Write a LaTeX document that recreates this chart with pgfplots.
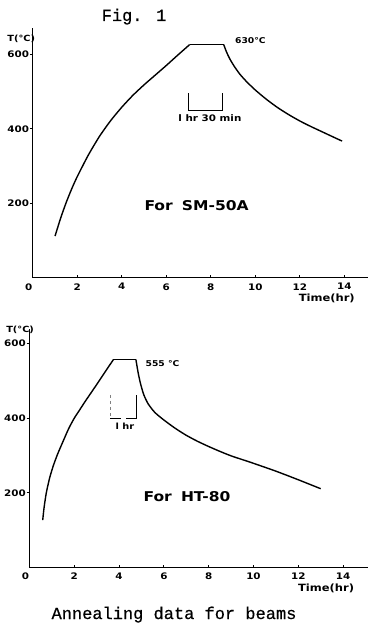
\documentclass[border=0pt]{standalone}
\usepackage{fontspec}
\usepackage{pgfplots}
\pgfplotsset{compat=1.18}
\newfontfamily\lett[FakeStretch=1.15]{DejaVu Sans}
\newfontfamily\tw[FakeBold=0.6]{Liberation Mono}

\pgfplotsset{
 annealaxis/.style={
  scale only axis, anchor=south west, clip=false,
  axis x line=bottom, axis y line=left,
  axis line style={-, line width=1.1pt},
  xmin=0, ymin=0,
  xtick={2,4,...,14}, ytick={200,400,600},
  extra x ticks={0},
  extra x tick style={major tick length=0pt, xticklabel style={xshift=-4pt}},
  xtick align=inside, ytick align=outside,
  major tick length=3pt,
  tick style={line width=0.8pt, black},
  /pgf/number format/assume math mode=true,
  ticklabel style={font=\lett\bfseries\fontsize{9}{10}\selectfont},
  yticklabel style={inner xsep=0.5pt},
  xticklabel style={yshift=-2pt},
 },
 curve/.style={black, line width=1.4pt, no markers},
 bracket/.style={black, line width=0.8pt, no markers},
}

\begin{document}
\begin{tikzpicture}
% ---------- top: SM-50A ----------
\begin{axis}[annealaxis, at={(32.8pt,-277.8pt)}, width=334.9pt, height=249.6pt,
  xmax=15.05, ymax=670]
\addplot[curve, smooth, tension=0.4] coordinates {
 (1.0,112) (1.25,160) (1.5,202) (1.75,239) (2.0,272) (2.5,330) (3.0,380)
 (3.5,422) (4.0,458) (4.5,490) (5.0,518) (5.5,544) (6.0,570) (6.5,597) (7.05,626)};
\addplot[curve] coordinates {(7.05,626) (8.58,626)};
\addplot[curve, smooth, tension=0.4] coordinates {
 (8.58,626) (8.7,607) (8.85,588) (9.05,568) (9.3,547) (9.6,527) (10.0,504)
 (10.5,479) (11.0,457) (11.5,438) (12.0,421) (12.5,406) (13.0,392) (13.5,378) (13.9,367)};
\addplot[bracket] coordinates {(7,495) (7,450) (8.5,450) (8.5,495)};
\node[font=\lett\bfseries\fontsize{8}{10}\selectfont] at (axis cs:9.78,637) {630°C};
\node[font=\lett\bfseries\fontsize{9}{10}\selectfont] at (axis cs:7.96,428) {l hr 30 min};
\node[font=\lett\bfseries\fontsize{13.5}{16}\selectfont] at (axis cs:7.36,195) {For\; SM-50A};
\node[font=\lett\bfseries\fontsize{8.5}{10}\selectfont] at (axis cs:-0.52,642) {T(°C)};
\node[font=\lett\bfseries\fontsize{10}{12}\selectfont] at (axis cs:13.21,-55) {Time(hr)};
\end{axis}
% ---------- bottom: HT-80 ----------
\begin{axis}[annealaxis, at={(29.5pt,-567.5pt)}, width=338.2pt, height=239pt,
  xmax=15.1, ymax=640]
\addplot[curve, smooth, tension=0.4] coordinates {
 (0.59,127) (0.65,160) (0.75,200) (0.9,240) (1.06,272) (1.25,303) (1.5,338)
 (1.75,372) (2.0,400) (2.25,423) (2.5,446) (3.0,490) (3.5,535) (3.75,557)};
\addplot[curve] coordinates {(3.75,557) (4.75,557)};
\addplot[curve, smooth, tension=0.4] coordinates {
 (4.75,557) (4.85,522) (4.95,494) (5.1,463) (5.3,438) (5.6,415) (6.0,395)
 (6.5,373) (7.0,354) (7.5,338) (8.0,324) (8.5,311) (9.0,299) (9.5,289)
 (10.0,279) (11.0,258) (12.0,235) (13.0,211)};
\addplot[bracket, gray, dashed] coordinates {(3.6,462) (3.6,399)};
\addplot[bracket] coordinates {(3.6,399) (4.1,399)};
\addplot[bracket] coordinates {(4.33,399) (4.79,399) (4.79,462)};
\node[font=\lett\bfseries\fontsize{8}{10}\selectfont] at (axis cs:5.94,545) {555 °C};
\node[font=\lett\bfseries\fontsize{8.5}{10}\selectfont] at (axis cs:4.26,377) {l hr};
\node[font=\lett\bfseries\fontsize{13.5}{16}\selectfont] at (axis cs:7.03,191) {For\; HT-80};
\node[font=\lett\bfseries\fontsize{8.5}{10}\selectfont] at (axis cs:-0.42,636) {T(°C)};
\node[font=\lett\bfseries\fontsize{10}{12}\selectfont] at (axis cs:13.24,-55) {Time(hr)};
\end{axis}
% ---------- typed texts ----------
\node[font=\tw\fontsize{17}{20}\selectfont, anchor=base] at (134pt,-21pt) {Fig. 1};
\node[font=\tw\fontsize{17}{20}\selectfont, anchor=base] at (174pt,-619pt) {Annealing data for beams};
\pgfresetboundingbox
\path[use as bounding box] (0,0) rectangle (368pt,-626pt);
\end{tikzpicture}
\end{document}
